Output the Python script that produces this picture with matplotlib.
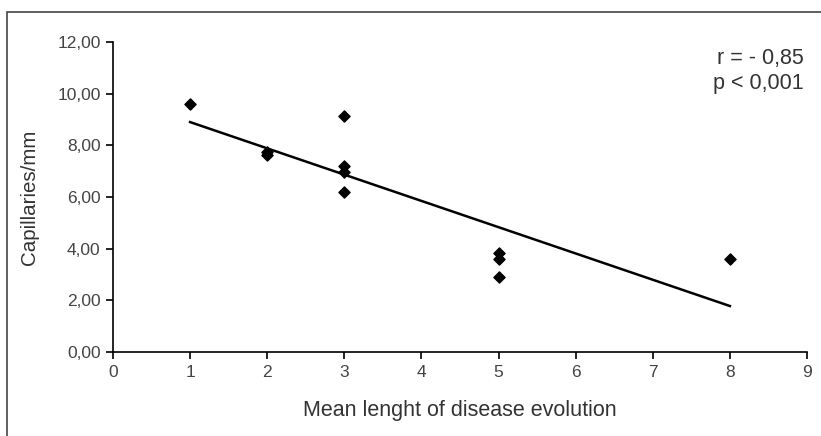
import matplotlib
matplotlib.use("Agg")
import matplotlib.pyplot as plt
from matplotlib.patches import Rectangle

x_vals = [1, 2, 2, 3, 3, 3, 3, 5, 5, 5, 8]
y_vals = [9.6, 7.74, 7.62, 9.14, 7.2, 6.97, 6.2, 3.85, 3.6, 2.92, 3.6]
trend_x = [1, 8]
trend_y = [8.9, 1.78]
x_ticks = list(range(0, 10))
y_ticks = [0, 2, 4, 6, 8, 10, 12]
y_tick_labels = ["0,00", "2,00", "4,00", "6,00", "8,00", "10,00", "12,00"]

plt.rcParams['font.family'] = ['Liberation Sans', 'DejaVu Sans']

fig = plt.figure(figsize=(8.21, 4.36), dpi=100)
ax = fig.add_axes([113/821, 1-352/436, (807-113)/821, (352-42)/436])

ax.plot(trend_x, trend_y, color='black', lw=1.8, zorder=2)
ax.scatter(x_vals, y_vals, marker='D', s=32, color='black', zorder=3)

ax.set_xlim(0, 9)
ax.set_ylim(0, 12)
ax.set_xticks(x_ticks)
ax.set_yticks(y_ticks)
ax.set_yticklabels(y_tick_labels)
for s in ['top', 'right']:
    ax.spines[s].set_visible(False)
for s in ['left', 'bottom']:
    ax.spines[s].set_linewidth(1.2)
ax.tick_params(direction='out', length=5, width=1.2, labelsize=12.5, labelcolor='#444444', pad=4)

ax.set_xlabel("Mean lenght of disease evolution", fontsize=15.5, color='#333333', labelpad=15)
ax.set_ylabel("Capillaries/mm", fontsize=14.8, color='#333333', labelpad=13)

ax.text(0.995, 0.98, "r = - 0,85\np < 0,001", transform=ax.transAxes, ha='right', va='top',
        fontsize=15.5, color='#333333', linespacing=1.25)

fig.patches.append(Rectangle((7/821, 0-0.05), 1.2, 1-12/436+0.05, transform=fig.transFigure,
                             fill=False, edgecolor='#444444', lw=1.2, clip_on=False))

fig.savefig("out.png", dpi=100)
